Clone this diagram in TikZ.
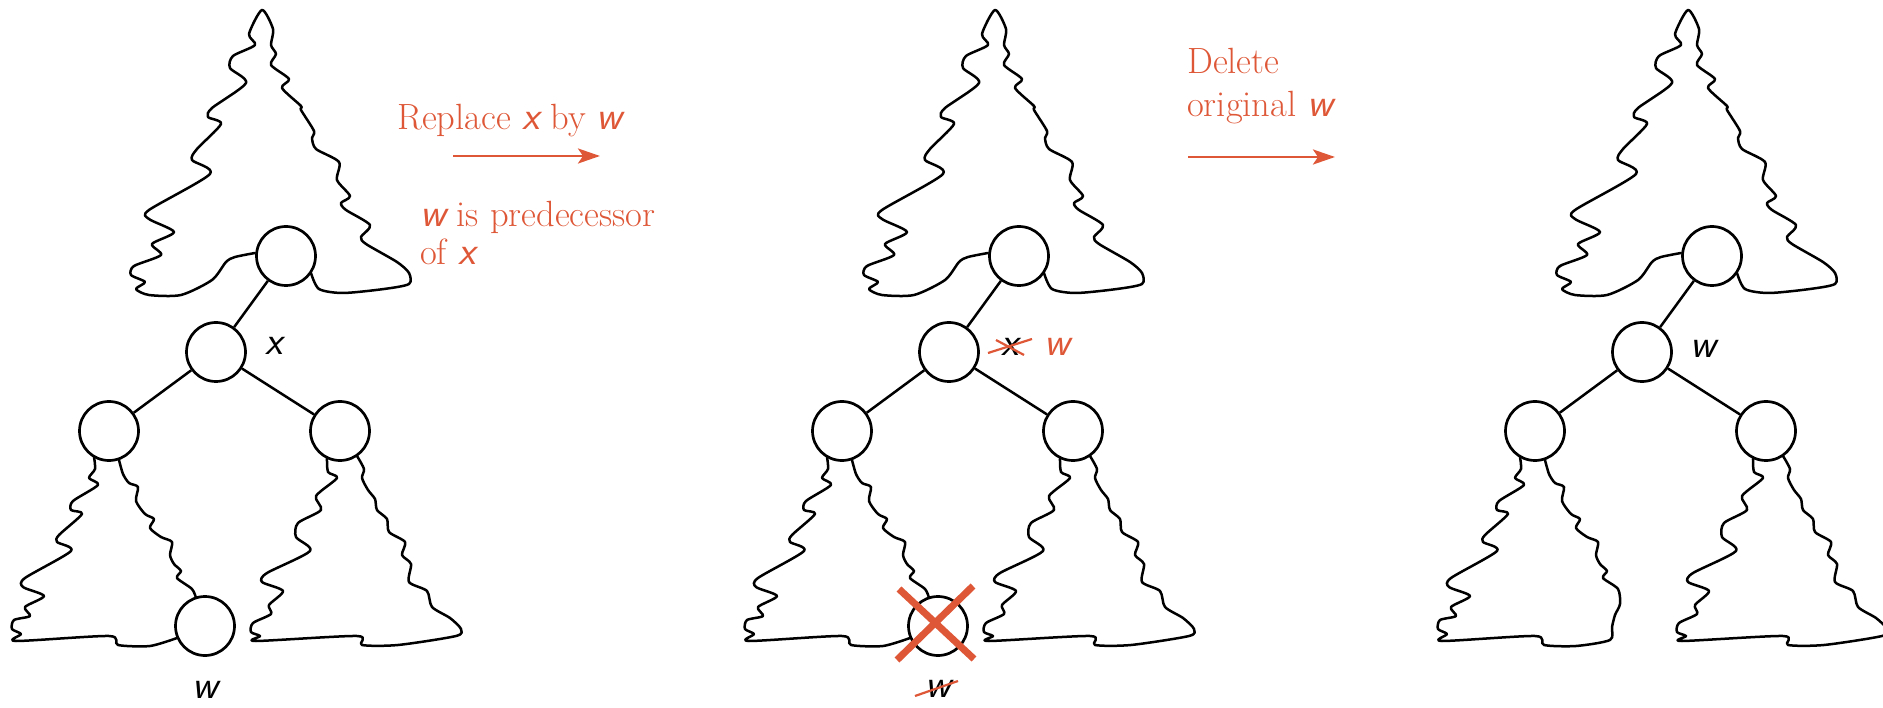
\documentclass[tikz,border=0pt]{standalone}
\usepackage{tikz}
\usetikzlibrary{arrows.meta}
\usetikzlibrary{positioning}
\usepackage{xcolor}

\definecolor{delred}{RGB}{222,88,56}
\newcommand\tvar[1]{{\fontsize{40}{40}\selectfont\sffamily\itshape #1}}

% wiggly outlines of the subtrees, coordinates relative to the node they hang from
\tikzset{
  outline/.style={draw,line width=2.5pt,line join=round,line cap=round},
  top tree/.pic={
    \path[outline] plot[smooth,tension=.45] coordinates {
      (-31,-3) (-51,1) (-60,6) (-74,24) (-105,39) (-137,39) (-150,33) (-141,26)
      (-155,19) (-152,10) (-125,-1) (-134,-12) (-112,-24) (-137,-37) (-137,-46)
      (-76,-82) (-94,-96) (-89,-107) (-65,-132) (-78,-139) (-74,-148) (-40,-173)
      (-56,-188) (-53,-200) (-31,-211) (-37,-222) (-24,-246) (-13,-227) (-15,-211)
      (-10,-202) (-15,-191) (3,-177) (-4,-168) (15,-150) (15,-146) (28,-125)
      (26,-118) (30,-107) (53,-94) (51,-76) (64,-60) (55,-53) (60,-46) (84,-31)
      (75,-19) (80,-12) (111,6) (123,17) (123,28) (98,33) (57,37) (33,33) (25,17)};
  },
  left tree/.pic={
    \path[outline] plot[smooth,tension=.45] coordinates {
      (-15,26) (-14,38) (-20,47) (-11,54) (-36,70) (-38,79) (-27,83) (-50,104)
      (-52,111) (-38,120) (-84,147) (-86,156) (-65,165) (-84,176) (-79,185)
      (-95,189) (-97,198) (-88,203) (-93,210) (0,205) (9,214) (41,215) (68,207)};
    \path[outline] plot[smooth,tension=.45] coordinates {
      (87,167) (83,158) (68,147) (72,140) (65,133) (61,124) (63,111) (52,106)
      (41,97) (45,88) (36,83) (27,70) (29,56) (20,52) (14,43) (10,29)};
  },
  left tree closed/.pic={
    \path[outline] plot[smooth,tension=.45] coordinates {
      (-15,26) (-14,38) (-20,47) (-11,54) (-36,70) (-38,79) (-27,83) (-50,104)
      (-52,111) (-38,120) (-84,147) (-86,156) (-65,165) (-84,176) (-79,185)
      (-95,189) (-97,198) (-88,203) (-93,210) (0,205) (9,214) (41,215) (75,209)
      (77,196) (80,184) (85,173) (83,158) (68,147) (72,140) (65,133) (61,124)
      (63,111) (52,106) (41,97) (45,88) (36,83) (27,70) (29,56) (20,52) (14,43)
      (10,29)};
  },
  right tree/.pic={
    \path[outline] plot[smooth,tension=.45] coordinates {
      (-13,27) (-12,41) (-3,47) (-24,65) (-19,79) (-42,92) (-44,106) (-30,120)
      (-73,142) (-78,151) (-57,160) (-71,174) (-69,183) (-87,192) (-89,201)
      (-80,205) (-84,210) (17,205) (22,214) (58,214) (116,205) (121,198)
      (110,187) (92,176) (87,160) (69,151) (71,133) (62,124) (65,111) (49,101)
      (47,88) (37,79) (35,68) (28,59) (22,47) (24,38) (17,25)};
  }
}

\begin{document}
\begin{tikzpicture}[x=1pt,y=-1pt,on grid,
  main node/.style={circle,draw,line width=2.7pt,minimum size=59pt,inner sep=0pt},
  link/.style={line width=2.5pt},
  lbl/.style={inner sep=0pt},
  note/.style={text=delred,inner sep=0pt,font=\fontsize{36.5}{38}\selectfont},
  red arrow/.style={draw=delred,line width=2.8pt,-{Stealth[length=22pt,width=15pt,inset=5pt]}},
  strike/.style={draw=delred,line width=2.2pt},
  cross/.style={draw=delred,line width=7pt}]

  \useasboundingbox (0,0) rectangle (1883,708);

  % the same tree in all three steps
  \foreach \p/\cx in {1/286,2/1019,3/1712} {
    \node[main node] (r\p) at (\cx,256) {};
    \node[main node] (m\p) [below left=96pt and 70pt of r\p] {};
    \node[main node] (a\p) [below left=79pt and 107pt of m\p] {};
    \node[main node] (b\p) [below right=79pt and 124pt of m\p] {};
    \path[link] (r\p) edge (m\p)
                (m\p) edge (a\p)
                      edge (b\p);
    \pic at (r\p) {top tree};
    \pic at (b\p) {right tree};
  }

  % leaf w at the bottom of the left subtree
  \node[main node] (w1) [below right=195pt and 96pt of a1] {};
  \node[main node] (w2) [below right=195pt and 96pt of a2] {};
  \pic at (a1) {left tree};
  \pic at (a2) {left tree};
  \pic at (a3) {left tree closed};

  % step 1
  \node[lbl] (xl1) at ([shift={(58,-6)}]m1) {\tvar{x}};
  \node[lbl] (wl1) [below=64pt of w1] {\tvar{w}};

  \node[note,anchor=base west] (rep) at (397,130) {Replace \tvar{x} by \tvar{w}};
  \coordinate (s1) at (453,156);
  \coordinate (e1) at (600,156);
  \draw[red arrow] (s1) -- (e1);
  \node[note,anchor=base west] (pred) at (420,227) {\tvar{w} is predecessor};
  \node[note,anchor=base west] (pred2) at ([yshift=-38pt]pred.base west) {of \tvar{x}};

  % step 2
  \node[lbl] (xl2) at ([shift={(61,-5)}]m2) {\tvar{x}};
  \draw[strike] ([shift={(-22,6)}]xl2.center) -- ([shift={(22,-8)}]xl2.center);
  \draw[strike] ([shift={(-14,-7)}]xl2.center) -- ([shift={(14,8)}]xl2.center);
  \node[lbl,text=delred] (nw2) at ([shift={(108,-5)}]m2) {\tvar{w}};

  \draw[cross] ([shift={(-39,-37)}]w2.center) -- ([shift={(36,33)}]w2.center);
  \draw[cross] ([shift={(35,-40)}]w2.center) -- ([shift={(-41,34)}]w2.center);
  \node[lbl] (wl2) [below=63pt of w2] {\tvar{w}};
  \draw[strike] ([shift={(-23,7)}]wl2.center) -- ([shift={(20,-8)}]wl2.center);

  \node[note,anchor=base west] (del) at (1187,74) {Delete};
  \node[note,anchor=base west] (del2) at (1187,117) {original \tvar{w}};
  \coordinate (s2) at (1188,157);
  \coordinate (e2) at (1335,157);
  \draw[red arrow] (s2) -- (e2);

  % step 3
  \node[lbl] (wl3) at ([shift={(61,-3)}]m3) {\tvar{w}};
\end{tikzpicture}
\end{document}
